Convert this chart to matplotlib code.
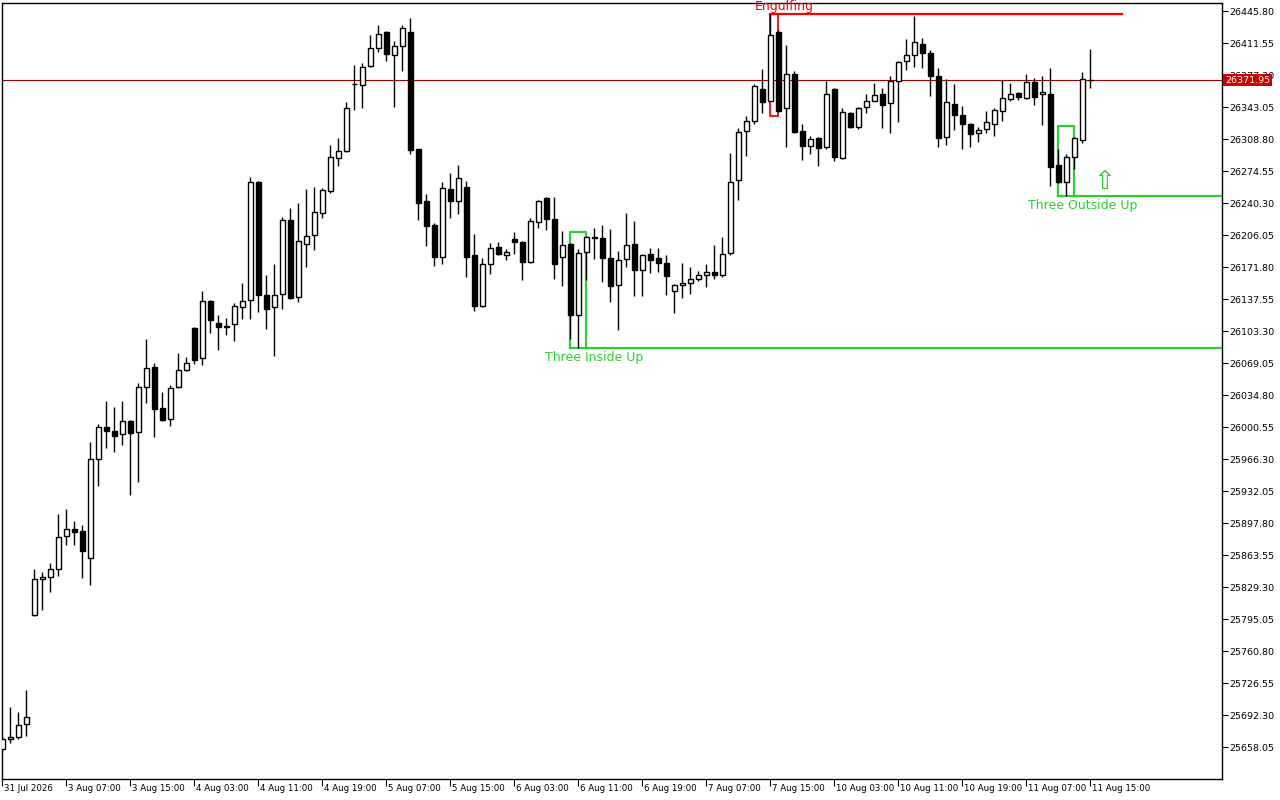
import matplotlib
matplotlib.use("Agg")
import matplotlib.pyplot as plt
import matplotlib.transforms as mtransforms
import numpy as np

# --------- DATA (H1 bars) ---------
opens = [
    25655.9, 25666.6, 25668.8, 25682.7, 25799.3, 25837.9, 25840.0, 25848.6, 25883.9, 25891.4,
    25889.2, 25860.3, 25966.3, 26000.6, 25996.3, 25993.1, 26007.0, 25995.2, 26043.4, 26064.8,
    26020.9, 26009.1, 26043.4, 26061.6, 26106.5, 26074.4, 26135.4, 26111.9, 26108.7, 26110.8,
    26129.0, 26136.5, 26262.8, 26141.8, 26129.0, 26142.9, 26222.1, 26139.7, 26196.4, 26206.1,
    26229.6, 26253.1, 26288.5, 26296.0, 26367.7, 26366.6, 26386.9, 26406.2, 26423.3, 26398.7,
    26408.3, 26423.3, 26298.1, 26242.4, 26216.8, 26182.5, 26255.3, 26242.4, 26257.4, 26184.6,
    26130.1, 26175.0, 26193.2, 26184.6, 26201.8, 26198.6, 26177.2, 26220.0, 26245.7, 26223.2,
    26182.5, 26196.4, 26120.4, 26187.9, 26203.9, 26202.8, 26181.4, 26152.5, 26180.4, 26196.4,
    26168.6, 26185.7, 26181.4, 26176.1, 26146.1, 26152.5, 26154.7, 26159.0, 26163.2, 26166.5,
    26163.2, 26186.8, 26264.9, 26317.4, 26328.1, 26362.3, 26349.5, 26423.3, 26342.0, 26378.4,
    26317.4, 26301.3, 26309.9, 26300.2, 26362.3, 26288.5, 26336.6, 26321.6, 26343.1, 26349.5,
    26357.0, 26347.3, 26370.9, 26392.3, 26398.7, 26410.5, 26400.8, 26376.2, 26311.0, 26346.3,
    26334.5, 26324.9, 26315.2, 26319.5, 26324.9, 26338.8, 26351.6, 26358.0, 26352.7, 26369.8,
    26357.0, 26357.0, 26281.0, 26262.8, 26289.5, 26307.7, 26372.5,
]
highs = [
    25670.9, 25700.9, 25695.5, 25719.1, 25848.6, 25845.4, 25855.0, 25907.4, 25912.8, 25899.9,
    25895.7, 25984.5, 26003.8, 26028.4, 26022.0, 26028.4, 26008.0, 26047.6, 26094.7, 26069.1,
    26038.0, 26045.5, 26079.8, 26075.5, 26107.6, 26146.1, 26136.5, 26120.4, 26117.2, 26133.3,
    26154.7, 26268.1, 26263.9, 26163.2, 26175.0, 26225.3, 26235.0, 26240.3, 26255.3, 26257.4,
    26256.4, 26302.4, 26309.9, 26348.4, 26388.0, 26390.1, 26420.1, 26430.8, 26424.4, 26413.7,
    26430.8, 26438.3, 26298.5, 26249.9, 26218.9, 26262.8, 26272.4, 26281.0, 26263.9, 26207.1,
    26181.4, 26197.5, 26198.6, 26191.1, 26209.3, 26199.6, 26224.2, 26243.5, 26246.7, 26246.7,
    26210.3, 26197.5, 26191.1, 26205.0, 26213.5, 26216.8, 26212.5, 26188.9, 26229.6, 26221.0,
    26185.7, 26192.1, 26192.1, 26184.6, 26153.6, 26176.1, 26171.8, 26167.5, 26175.0, 26195.4,
    26203.9, 26293.8, 26320.6, 26333.4, 26367.7, 26383.7, 26442.6, 26425.5, 26409.4, 26381.6,
    26324.9, 26312.0, 26311.0, 26370.9, 26363.4, 26342.0, 26337.7, 26343.1, 26357.0, 26368.7,
    26363.4, 26376.2, 26392.3, 26415.8, 26440.5, 26416.9, 26404.1, 26384.8, 26373.0, 26367.7,
    26344.1, 26325.9, 26321.6, 26338.8, 26342.0, 26371.9, 26368.7, 26359.1, 26378.4, 26374.1,
    26376.2, 26384.8, 26298.1, 26292.7, 26311.0, 26380.5, 26405.1,
]
lows = [
    25653.8, 25662.3, 25666.6, 25669.8, 25798.5, 25804.7, 25824.0, 25841.1, 25874.3, 25874.3,
    25838.9, 25831.4, 25937.4, 25978.1, 25973.8, 25981.3, 25927.8, 25941.7, 26026.2, 25989.9,
    26006.5, 26001.6, 26042.3, 26060.5, 26068.0, 26066.9, 26101.2, 26083.0, 26099.0, 26092.6,
    26116.1, 26116.1, 26123.6, 26105.4, 26076.5, 26126.9, 26137.6, 26134.3, 26171.8, 26190.0,
    26224.2, 26251.0, 26279.9, 26294.9, 26339.8, 26342.0, 26385.9, 26401.9, 26392.3, 26343.1,
    26381.6, 26292.7, 26222.1, 26194.3, 26172.9, 26175.0, 26224.2, 26228.5, 26161.1, 26124.7,
    26129.0, 26164.3, 26184.6, 26179.3, 26185.7, 26157.9, 26176.1, 26213.5, 26211.4, 26159.0,
    26151.5, 26094.7, 26085.1, 26157.9, 26180.4, 26155.8, 26134.3, 26104.4, 26171.8, 26140.8,
    26140.8, 26165.4, 26166.5, 26141.8, 26122.6, 26138.6, 26142.9, 26156.8, 26150.4, 26159.0,
    26161.1, 26185.0, 26243.5, 26290.6, 26324.9, 26336.6, 26349.0, 26337.7, 26300.2, 26315.2,
    26286.3, 26292.7, 26279.9, 26298.6, 26285.3, 26287.4, 26320.6, 26320.0, 26336.6, 26349.0,
    26320.6, 26315.2, 26327.0, 26382.7, 26385.9, 26384.8, 26354.8, 26300.2, 26302.4, 26318.4,
    26298.1, 26300.2, 26305.6, 26315.2, 26312.0, 26328.1, 26349.0, 26351.0, 26351.6, 26345.2,
    26323.8, 26258.5, 26261.7, 26247.8, 26276.7, 26304.5, 26363.4,
]
closes = [
    25666.6, 25668.8, 25681.6, 25690.2, 25837.9, 25840.0, 25848.6, 25882.8, 25891.4, 25888.2,
    25867.8, 25966.3, 26000.6, 25996.3, 25990.9, 26007.0, 25994.1, 26043.4, 26063.7, 26019.8,
    26008.0, 26042.3, 26061.6, 26069.1, 26072.3, 26135.4, 26115.1, 26107.6, 26107.6, 26130.1,
    26135.4, 26262.8, 26141.8, 26126.9, 26141.8, 26222.1, 26138.6, 26199.6, 26205.0, 26230.7,
    26254.2, 26289.5, 26296.0, 26342.0, 26367.2, 26385.9, 26406.2, 26421.2, 26399.8, 26408.3,
    26427.6, 26297.0, 26240.3, 26215.7, 26182.5, 26256.4, 26242.4, 26267.1, 26182.5, 26130.1,
    26175.0, 26192.1, 26185.7, 26187.9, 26198.6, 26177.2, 26221.0, 26242.4, 26223.2, 26175.0,
    26195.4, 26120.4, 26186.8, 26203.9, 26203.4, 26181.4, 26151.5, 26179.3, 26195.4, 26168.6,
    26184.6, 26179.3, 26176.1, 26162.2, 26152.5, 26154.7, 26159.0, 26163.2, 26166.5, 26163.2,
    26185.7, 26262.8, 26316.3, 26328.1, 26365.5, 26348.4, 26420.1, 26338.8, 26378.4, 26316.3,
    26301.3, 26308.8, 26299.2, 26357.0, 26289.5, 26337.7, 26321.6, 26342.0, 26349.5, 26355.9,
    26345.2, 26370.9, 26391.2, 26398.7, 26412.6, 26400.8, 26376.2, 26309.9, 26348.4, 26334.5,
    26324.9, 26314.2, 26318.4, 26327.0, 26339.8, 26352.7, 26357.0, 26353.8, 26369.8, 26353.8,
    26359.1, 26278.8, 26262.8, 26289.5, 26309.9, 26373.0, 26371.95,
]

time_labels = [
    "31 Jul 2026", "3 Aug 07:00", "3 Aug 15:00", "4 Aug 03:00", "4 Aug 11:00", "4 Aug 19:00",
    "5 Aug 07:00", "5 Aug 15:00", "6 Aug 03:00", "6 Aug 11:00", "6 Aug 19:00", "7 Aug 07:00",
    "7 Aug 15:00", "10 Aug 03:00", "10 Aug 11:00", "10 Aug 19:00", "11 Aug 07:00", "11 Aug 15:00",
]
LABEL_EVERY = 8

price_ticks = [
    25658.05, 25692.30, 25726.55, 25760.80, 25795.05, 25829.30, 25863.55, 25897.80,
    25932.05, 25966.30, 26000.55, 26034.80, 26069.05, 26103.30, 26137.55, 26171.80,
    26206.05, 26240.30, 26274.55, 26308.80, 26343.05, 26377.30, 26411.55, 26445.80,
]
last_price = 26371.95

# patterns: (first bar, last bar, top, bottom)
engulfing = (96, 97, 26442.6, 26333.4)
engulfing_line_end = 140
three_inside_up = (71, 73, 26209.5, 26085.1)
three_outside_up = (132, 134, 26322.7, 26247.8)
arrow_bar, arrow_price = 137.8, 26262.5

RED = "#ff0000"
GREEN = "#32cd32"

# --------- PLOT ---------
fig = plt.figure(figsize=(12.8, 8), dpi=100)
ax = fig.add_axes([2 / 1280, 21 / 800, 1220 / 1280, 776 / 800])

o = np.array(opens)
h = np.array(highs)
l = np.array(lows)
c = np.array(closes)
x = np.arange(len(o))
up = c >= o

ax.vlines(x, l, h, color="black", lw=1.0, zorder=3)
ax.bar(x[up], (c - o)[up], bottom=o[up], width=0.6, facecolor="white",
       edgecolor="black", lw=1.0, zorder=4)
ax.bar(x[~up], (o - c)[~up], bottom=c[~up], width=0.6, facecolor="black",
       edgecolor="black", lw=1.0, zorder=4)

# current price line
ax.axhline(last_price, color="#a00000", lw=0.8, zorder=2)

# engulfing
b0, b1, top, bot = engulfing
ax.plot([b0, engulfing_line_end], [top, top], color=RED, lw=1.6, zorder=2)
ax.plot([b0, b0, b1, b1], [top, bot, bot, top], color=RED, lw=1.3, zorder=2)
ax.annotate("Engulfing", xy=(b1 + 0.7, top), xytext=(0, 1), textcoords="offset points",
            ha="center", va="bottom", color=RED, fontsize=9, annotation_clip=False)

# three inside up
b0, b1, top, bot = three_inside_up
ax.plot([b0, b0, b1, b1], [bot, top, top, bot], color=GREEN, lw=1.6, zorder=2)
ax.plot([b0, 200], [bot, bot], color=GREEN, lw=1.6, zorder=2)
ax.annotate("Three Inside Up", xy=(b1 + 1.0, bot), xytext=(0, -2), textcoords="offset points",
            ha="center", va="top", color=GREEN, fontsize=9)

# three outside up
b0, b1, top, bot = three_outside_up
ax.plot([b0, b0, b1, b1], [bot, top, top, bot], color=GREEN, lw=1.6, zorder=2)
ax.plot([b0, 200], [bot, bot], color=GREEN, lw=1.6, zorder=2)
ax.annotate("Three Outside Up", xy=(b1 + 1.1, bot), xytext=(0, -2), textcoords="offset points",
            ha="center", va="top", color=GREEN, fontsize=9)
ax.text(arrow_bar, arrow_price, "\u21e7", color=GREEN, fontsize=19,
        ha="center", va="center")

# axes
ax.set_xlim((2 - 2.3) / 8, (1222 - 2.3) / 8)
ax.set_ylim(25623.8, 26454.4)
for s in ax.spines.values():
    s.set_color("black")
    s.set_linewidth(1.0)

ax.yaxis.tick_right()
ax.set_yticks(price_ticks)
ax.set_yticklabels([f"{p:.2f}" for p in price_ticks])
ax.tick_params(axis="y", direction="out", length=4, width=0.8, pad=1, labelsize=6.8)

ax.set_xticks(np.arange(len(time_labels)) * LABEL_EVERY)
ax.set_xticklabels(time_labels)
ax.tick_params(axis="x", direction="out", length=5, width=0.8, pad=-1.5, labelsize=6.2)
shift = mtransforms.ScaledTranslation(2 / 100, 0, fig.dpi_scale_trans)
for lab in ax.get_xticklabels():
    lab.set_ha("left")
    lab.set_transform(lab.get_transform() + shift)

# last price box
trans = mtransforms.blended_transform_factory(ax.transAxes, ax.transData)
ax.text(1.0025, last_price, f"{last_price:.2f}", transform=trans, color="white", fontsize=6.8,
        ha="left", va="center", clip_on=False, zorder=10,
        bbox=dict(boxstyle="square,pad=0.2", facecolor="#d00000", edgecolor="none"))

fig.savefig("out.png", dpi=100)
plt.close(fig)
